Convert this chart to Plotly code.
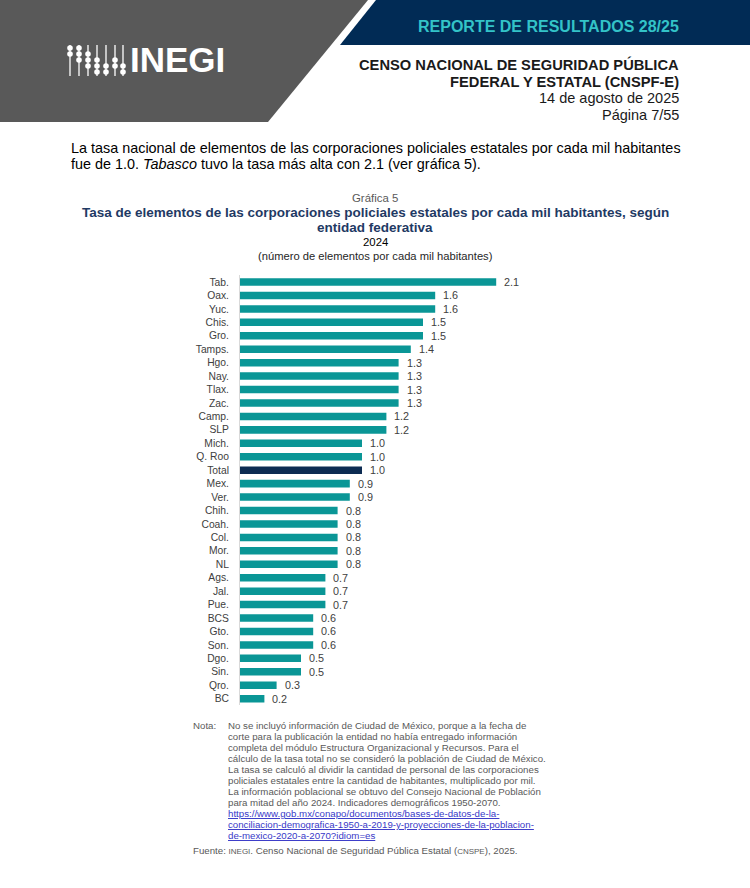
import plotly.graph_objects as go

W, H = 750, 888

# ---------------- data ----------------
categories = ["Tab.", "Oax.", "Yuc.", "Chis.", "Gro.", "Tamps.", "Hgo.", "Nay.", "Tlax.", "Zac.",
              "Camp.", "SLP", "Mich.", "Q. Roo", "Total", "Mex.", "Ver.", "Chih.", "Coah.", "Col.",
              "Mor.", "NL", "Ags.", "Jal.", "Pue.", "BCS", "Gto.", "Son.", "Dgo.", "Sin.", "Qro.", "BC"]
values = [2.1, 1.6, 1.6, 1.5, 1.5, 1.4, 1.3, 1.3, 1.3, 1.3,
          1.2, 1.2, 1.0, 1.0, 1.0, 0.9, 0.9, 0.8, 0.8, 0.8,
          0.8, 0.8, 0.7, 0.7, 0.7, 0.6, 0.6, 0.6, 0.5, 0.5, 0.3, 0.2]
highlight = "Total"

TEAL = "#0A9696"
NAVY = "#0C2B52"
FONT = "Liberation Sans, Arial, sans-serif"

def px(x):
    return x / W

def py(y):
    return 1 - y / H

bar_colors = [NAVY if c == highlight else TEAL for c in categories]

fig = go.Figure()
fig.add_trace(go.Bar(
    x=values, y=categories, orientation="h",
    marker=dict(color=bar_colors, line=dict(width=0)),
    hoverinfo="x+y", showlegend=False,
))

# value labels
annotations = []
for c, v in zip(categories, values):
    annotations.append(dict(
        x=v, y=c, xref="x", yref="y", text=f"{v:.1f}", showarrow=False,
        xanchor="left", yanchor="middle", xshift=6,
        font=dict(family=FONT, size=10.8, color="#404040"),
    ))

def txt(x, y, s, size, color="#000000", anchor="left", bold=False):
    if bold:
        s = f"<b>{s}</b>"
    annotations.append(dict(
        x=px(x), y=py(y), xref="paper", yref="paper", text=s, showarrow=False,
        xanchor=anchor, yanchor="middle", align=anchor,
        font=dict(family=FONT, size=size, color=color),
    ))

# header texts
txt(681, 27, "REPORTE DE RESULTADOS 28/25", 16.0, "#33C3C8", "right", bold=True)
txt(681, 65, "CENSO NACIONAL DE SEGURIDAD PÚBLICA", 14.7, "#1A1A1A", "right", bold=True)
txt(681, 81.5, "FEDERAL Y ESTATAL (CNSPF-E)", 14.7, "#1A1A1A", "right", bold=True)
txt(681, 98, "14 de agosto de 2025", 14.5, "#1A1A1A", "right")
txt(681, 115, "Página 7/55", 14.5, "#1A1A1A", "right")

# logo text
txt(128, 60, "<b>INEGI</b>", 35, "#FFFFFF", "left")

# body text
txt(69, 148, "La tasa nacional de elementos de las corporaciones policiales estatales por cada mil habitantes", 14.4, "#000000")
txt(69, 164, "fue de 1.0. <i>Tabasco</i> tuvo la tasa más alta con 2.1 (ver gráfica 5).", 14.4, "#000000")

# chart titles
txt(375, 198, "Gráfica 5", 11.4, "#595959", "center")
txt(375, 212.5, "Tasa de elementos de las corporaciones policiales estatales por cada mil habitantes, según", 13.5, "#1F3A64", "center", bold=True)
txt(375, 227.5, "entidad federativa", 13.5, "#1F3A64", "center", bold=True)
txt(375, 242, "2024", 11.4, "#000000", "center")
txt(375, 256, "(número de elementos por cada mil habitantes)", 11.2, "#262626", "center")

# notes
NOTE_C = "#595959"
LINK_C = "#3838C8"
note_lines = [
    "No se incluyó información de Ciudad de México, porque a la fecha de",
    "corte para la publicación la entidad no había entregado información",
    "completa del módulo Estructura Organizacional y Recursos. Para el",
    "cálculo de la tasa total no se consideró la población de Ciudad de México.",
    "La tasa se calculó al dividir la cantidad de personal de las corporaciones",
    "policiales estatales entre la cantidad de habitantes, multiplicado por mil.",
    "La información poblacional se obtuvo del Consejo Nacional de Población",
    "para mitad del año 2024. Indicadores demográficos 1950-2070.",
]
link_lines = [
    "https://www.gob.mx/conapo/documentos/bases-de-datos-de-la-",
    "conciliacion-demografica-1950-a-2019-y-proyecciones-de-la-poblacion-",
    "de-mexico-2020-a-2070?idiom=es",
]
NS = 9.7
txt(191, 725.5, "Nota:", NS, NOTE_C)
y0 = 725.5
step = 10.95
for i, line in enumerate(note_lines):
    txt(226, y0 + i * step, line, NS, NOTE_C)
for j, line in enumerate(link_lines):
    txt(226, y0 + (len(note_lines) + j) * step,
        f'<span style="text-decoration:underline">{line}</span>', NS, LINK_C)
txt(191, 850, 'Fuente: <span style="font-size:8px">INEGI</span>. Censo Nacional de Seguridad Pública Estatal (<span style="font-size:8px">CNSPE</span>), 2025.', NS, NOTE_C)

# shapes: header
shapes = [
    dict(type="path", xref="paper", yref="paper",
         path=f"M 0 {py(0)} L {px(368)} {py(0)} L {px(268)} {py(122)} L 0 {py(122)} Z",
         fillcolor="#595959", line=dict(width=0), layer="below"),
    dict(type="path", xref="paper", yref="paper",
         path=f"M {px(376)} {py(0)} L 1 {py(0)} L 1 {py(45)} L {px(340)} {py(45)} Z",
         fillcolor="#012B55", line=dict(width=0), layer="below"),
]

# logo icon (abacus-like pattern)
col_x = [70, 79, 88, 97, 106, 115, 123]
row_y = [48, 54, 60, 66, 72]
dot_rows = [[0, 1], [0, 1, 2], [1, 2, 3], [2, 3, 4], [3, 4], [2, 3], [3, 4]]
for cx, rows in zip(col_x, dot_rows):
    shapes.append(dict(type="line", xref="paper", yref="paper",
                       x0=px(cx), x1=px(cx), y0=py(45), y1=py(76),
                       line=dict(color="#FFFFFF", width=1.3)))
    for r in rows:
        ry = row_y[r]
        shapes.append(dict(type="circle", xref="paper", yref="paper",
                           x0=px(cx - 2.8), x1=px(cx + 2.8), y0=py(ry + 2.8), y1=py(ry - 2.8),
                           fillcolor="#FFFFFF", line=dict(width=0)))

PX_PER_UNIT = 122.0
plot_left, plot_right = 240, 750
plot_top, plot_bottom = 275.3, 705.4

fig.update_layout(
    width=W, height=H,
    margin=dict(l=0, r=0, t=0, b=0),
    paper_bgcolor="#FFFFFF", plot_bgcolor="rgba(0,0,0,0)",
    bargap=0.44,
    xaxis=dict(domain=[px(plot_left), px(plot_right)],
               range=[0, (plot_right - plot_left) / PX_PER_UNIT],
               visible=False, fixedrange=True),
    yaxis=dict(domain=[py(plot_bottom), py(plot_top)],
               categoryorder="array", categoryarray=categories,
               tickmode="array", tickvals=categories, ticktext=categories,
               range=[len(categories) - 0.5, -0.5],
               showline=True, linecolor="#D9D9D9", linewidth=1,
               showgrid=False, zeroline=False, ticks="",
               ticklabelstandoff=8,
               tickfont=dict(family=FONT, size=10.3, color="#404040"),
               fixedrange=True),
    annotations=annotations,
    shapes=shapes,
    font=dict(family=FONT),
)

fig.write_html("out.html",
               config={"displayModeBar": False},
               post_script="document.body.style.margin='0';document.body.style.padding='0';")
